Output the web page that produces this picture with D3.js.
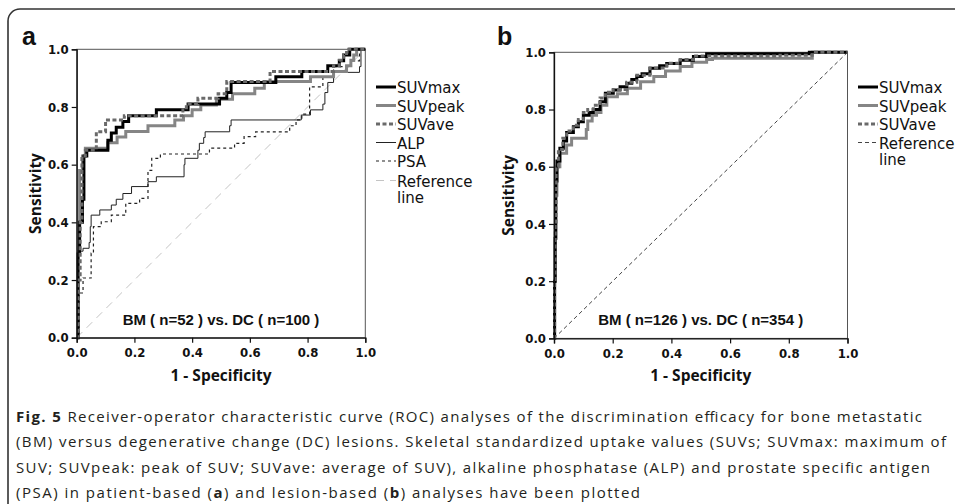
<!DOCTYPE html>
<html>
<head>
<meta charset="utf-8">
<script src="https://cdn.jsdelivr.net/npm/d3@7"></script>
<style>
  body { margin: 0; background: #fff; }
  svg { display: block; }
</style>
</head>
<body>
<div id="fig"></div>
<script>
// ---- data: [1 - specificity, sensitivity] at each step ----
const ticks = [0, 0.2, 0.4, 0.6, 0.8, 1.0];

// panel a : patient based, BM n=52 vs DC n=100
const aSUVmax = [[0,0],[0.005,0.29],[0.01,0.40],[0.02,0.48],[0.025,0.63],[0.035,0.65],[0.108,0.685],[0.12,0.71],[0.137,0.73],[0.16,0.75],[0.18,0.77],[0.276,0.79],[0.386,0.81],[0.495,0.83],[0.52,0.85],[0.535,0.885],[0.69,0.905],[0.78,0.923],[0.87,0.943],[0.91,0.96],[0.925,0.98],[0.946,1.0],[1,1]];
const aSUVpeak = [[0,0],[0.003,0.30],[0.01,0.58],[0.02,0.63],[0.03,0.657],[0.108,0.676],[0.14,0.696],[0.17,0.715],[0.247,0.735],[0.34,0.755],[0.37,0.77],[0.40,0.79],[0.43,0.807],[0.484,0.827],[0.54,0.846],[0.617,0.865],[0.65,0.888],[0.81,0.905],[0.89,0.923],[0.935,0.943],[0.95,0.962],[0.96,0.98],[0.97,1.0],[1,1]];
const aSUVave = [[0,0],[0.005,0.20],[0.012,0.40],[0.018,0.63],[0.03,0.65],[0.068,0.714],[0.10,0.755],[0.165,0.77],[0.368,0.79],[0.38,0.81],[0.42,0.83],[0.49,0.846],[0.52,0.888],[0.67,0.923],[0.89,0.943],[0.91,0.962],[0.925,0.98],[0.935,1.0],[1,1]];
const aALP = [[0,0],[0.003,0.30],[0.022,0.31],[0.043,0.33],[0.047,0.385],[0.05,0.425],[0.08,0.443],[0.12,0.46],[0.137,0.48],[0.16,0.50],[0.19,0.524],[0.247,0.541],[0.276,0.558],[0.372,0.60],[0.375,0.622],[0.42,0.65],[0.425,0.674],[0.44,0.694],[0.445,0.714],[0.53,0.735],[0.535,0.755],[0.778,0.772],[0.81,0.79],[0.853,0.81],[0.86,0.85],[0.87,0.885],[0.89,0.92],[0.98,0.94],[0.985,1.0],[1,1]];
const aPSA = [[0,0],[0.008,0.155],[0.022,0.207],[0.05,0.293],[0.058,0.385],[0.085,0.402],[0.12,0.425],[0.17,0.466],[0.218,0.483],[0.247,0.58],[0.26,0.622],[0.29,0.637],[0.46,0.657],[0.547,0.674],[0.58,0.697],[0.62,0.714],[0.738,0.735],[0.76,0.755],[0.78,0.775],[0.807,0.87],[0.853,0.905],[0.89,0.94],[0.95,0.96],[0.98,1.0],[1,1]];

// panel b : lesion based, BM n=126 vs DC n=354
const bSUVmax = [[0,0],[0.002,0.2],[0.004,0.35],[0.006,0.55],[0.01,0.62],[0.02,0.665],[0.032,0.69],[0.043,0.72],[0.066,0.74],[0.083,0.757],[0.10,0.78],[0.12,0.79],[0.134,0.80],[0.157,0.827],[0.175,0.857],[0.202,0.868],[0.225,0.88],[0.248,0.892],[0.265,0.905],[0.282,0.915],[0.30,0.925],[0.327,0.944],[0.36,0.953],[0.384,0.961],[0.43,0.972],[0.475,0.985],[0.52,0.995],[0.87,1.0],[1,1]];
const bSUVpeak = [[0,0],[0.002,0.2],[0.004,0.35],[0.006,0.5],[0.01,0.6],[0.02,0.647],[0.043,0.676],[0.06,0.70],[0.11,0.73],[0.115,0.76],[0.13,0.78],[0.145,0.79],[0.16,0.815],[0.18,0.845],[0.216,0.855],[0.25,0.874],[0.295,0.897],[0.34,0.915],[0.38,0.935],[0.43,0.95],[0.47,0.965],[0.52,0.975],[0.54,0.979],[0.88,1.0],[1,1]];
const bSUVave = [[0,0],[0.002,0.2],[0.004,0.4],[0.007,0.6],[0.015,0.66],[0.03,0.70],[0.043,0.725],[0.066,0.745],[0.083,0.765],[0.10,0.79],[0.115,0.80],[0.134,0.815],[0.157,0.84],[0.175,0.86],[0.202,0.87],[0.248,0.895],[0.282,0.92],[0.327,0.945],[0.384,0.962],[0.43,0.975],[0.475,0.987],[0.77,0.99],[0.88,1.0],[1,1]];

const refLine = [[0,0],[1,1]];

const captionLines = [
  [["Fig. 5", true], [" Receiver-operator characteristic curve (ROC) analyses of the discrimination efficacy for bone metastatic", false]],
  [["(BM) versus degenerative change (DC) lesions. Skeletal standardized uptake values (SUVs; SUVmax: maximum of", false]],
  [["SUV; SUVpeak: peak of SUV; SUVave: average of SUV), alkaline phosphatase (ALP) and prostate specific antigen", false]],
  [["(PSA) in patient-based (", false], ["a", true], [") and lesion-based (", false], ["b", true], [") analyses have been plotted", false]]
];

// ---- line styles ----
const styles = {
  SUVmax:  { stroke: "#000",    width: 3,   dash: null },
  SUVpeak: { stroke: "#858585", width: 3,   dash: null },
  SUVave:  { stroke: "#6a6a6a", width: 3,   dash: "4,2.5" },
  ALP:     { stroke: "#222",    width: 1,   dash: null },
  PSA:     { stroke: "#222",    width: 1.2, dash: "3,3" },
  refA:    { stroke: "#c4c4c4", width: 1,   dash: "8,6" },
  refB:    { stroke: "#444",    width: 1,   dash: "4,3" }
};

const W = 955, H = 504;
const svg = d3.select("#fig").append("svg")
  .attr("width", W).attr("height", H)
  .attr("viewBox", `0 0 ${W} ${H}`);

// rounded frame around the figure (runs off the right and bottom)
svg.append("rect")
  .attr("x", 8).attr("y", 9)
  .attr("width", 980).attr("height", 540)
  .attr("rx", 12)
  .attr("fill", "none")
  .attr("stroke", "#333")
  .attr("stroke-width", 1.6);

const tickFont = "'DejaVu Sans', Verdana, sans-serif";

function drawPanel(p) {
  const x = d3.scaleLinear().domain([0, 1]).range([p.x0, p.x1]);
  const y = d3.scaleLinear().domain([0, 1]).range([p.yb, p.yt]);

  // plot frame
  svg.append("rect")
    .attr("x", p.x0).attr("y", p.yt)
    .attr("width", p.x1 - p.x0).attr("height", p.yb - p.yt)
    .attr("fill", "none").attr("stroke", "#555").attr("stroke-width", 1);

  const line = d3.line()
    .x(d => x(d[0])).y(d => y(d[1]))
    .curve(d3.curveStepAfter);
  const straight = d3.line().x(d => x(d[0])).y(d => y(d[1]));

  // reference first, then curves back to front
  p.series.forEach(s => {
    const st = styles[s.style];
    svg.append("path")
      .datum(s.data)
      .attr("d", s.straight ? straight : line)
      .attr("fill", "none")
      .attr("stroke", st.stroke)
      .attr("stroke-width", st.width)
      .attr("stroke-dasharray", st.dash)
      .attr("stroke-linejoin", "miter");
  });

  // axes
  const xAxis = svg.append("g")
    .attr("transform", `translate(0,${p.yb})`)
    .call(d3.axisBottom(x).tickValues(ticks).tickFormat(d3.format(".1f")).tickSize(5).tickPadding(5));
  const yAxis = svg.append("g")
    .attr("transform", `translate(${p.x0},0)`)
    .call(d3.axisLeft(y).tickValues(ticks).tickFormat(d3.format(".1f")).tickSize(5).tickPadding(3));
  [xAxis, yAxis].forEach(ax => {
    ax.select(".domain").attr("stroke", "#111").attr("stroke-width", 1.3);
    ax.selectAll(".tick line").attr("stroke", "#111").attr("stroke-width", 1.2);
    ax.selectAll(".tick text")
      .attr("fill", "#111")
      .style("font-family", tickFont)
      .style("font-stretch", "condensed")
      .style("font-weight", "bold")
      .style("font-size", "13px");
  });

  // axis titles
  svg.append("text")
    .attr("x", (p.x0 + p.x1) / 2).attr("y", p.yb + 43)
    .attr("text-anchor", "middle")
    .style("font-family", "'Open Sans', sans-serif")
    .style("font-weight", "bold").style("font-size", "15.5px")
    .attr("fill", "#111")
    .text("1 - Specificity");
  svg.append("text")
    .attr("transform", `translate(${p.ylabX},${(p.yt + p.yb) / 2}) rotate(-90)`)
    .attr("text-anchor", "middle")
    .style("font-family", "'Open Sans', sans-serif")
    .style("font-weight", "bold").style("font-size", "15.5px")
    .attr("fill", "#111")
    .text("Sensitivity");

  // sample size note
  svg.append("text")
    .attr("x", (p.x0 + p.x1) / 2).attr("y", p.yb - 13)
    .attr("text-anchor", "middle")
    .style("font-family", "'Liberation Sans', Arial, sans-serif")
    .style("font-weight", "bold").style("font-size", "15px")
    .attr("fill", "#111")
    .text(p.note);

  // panel letter
  svg.append("text")
    .attr("x", p.letterX).attr("y", 45)
    .style("font-family", "'Liberation Sans', Arial, sans-serif")
    .style("font-weight", "bold").style("font-size", "25px")
    .attr("fill", "#111")
    .text(p.letter);

  // legend
  const lg = svg.append("g").attr("transform", `translate(${p.legX},0)`);
  p.legend.forEach(item => {
    const st = styles[item.style];
    lg.append("line")
      .attr("x1", 0).attr("x2", 20)
      .attr("y1", item.y - 6).attr("y2", item.y - 6)
      .attr("stroke", st.stroke)
      .attr("stroke-width", st.width)
      .attr("stroke-dasharray", st.dash);
    item.text.forEach((t, i) => {
      lg.append("text")
        .attr("x", 21).attr("y", item.y + i * 16.7)
        .style("font-family", "'DejaVu Sans', sans-serif")
        .style("font-size", "15px")
        .attr("fill", "#111")
        .text(t);
    });
  });
}

drawPanel({
  letter: "a", letterX: 22,
  x0: 76.7, x1: 365.3, yt: 49.3, yb: 337.7, ylabX: 41,
  note: "BM ( n=52 ) vs. DC ( n=100 )",
  legX: 376,
  series: [
    { data: refLine, style: "refA", straight: true },
    { data: aPSA, style: "PSA" },
    { data: aALP, style: "ALP" },
    { data: aSUVpeak, style: "SUVpeak" },
    { data: aSUVmax, style: "SUVmax" },
    { data: aSUVave, style: "SUVave" }
  ],
  legend: [
    { style: "SUVmax", y: 93, text: ["SUVmax"] },
    { style: "SUVpeak", y: 111.5, text: ["SUVpeak"] },
    { style: "SUVave", y: 130, text: ["SUVave"] },
    { style: "ALP", y: 148.5, text: ["ALP"] },
    { style: "PSA", y: 167, text: ["PSA"] },
    { style: "refA", y: 186.5, text: ["Reference", "line"] }
  ]
});

drawPanel({
  letter: "b", letterX: 497,
  x0: 554, x1: 847.5, yt: 52.3, yb: 338.4, ylabX: 514,
  note: "BM ( n=126 ) vs. DC ( n=354 )",
  legX: 858,
  series: [
    { data: refLine, style: "refB", straight: true },
    { data: bSUVpeak, style: "SUVpeak" },
    { data: bSUVmax, style: "SUVmax" },
    { data: bSUVave, style: "SUVave" }
  ],
  legend: [
    { style: "SUVmax", y: 93, text: ["SUVmax"] },
    { style: "SUVpeak", y: 111.5, text: ["SUVpeak"] },
    { style: "SUVave", y: 130, text: ["SUVave"] },
    { style: "refB", y: 148.5, text: ["Reference", "line"] }
  ]
});

// caption
const capWidths = [906, 930, 914, 624];
captionLines.forEach((parts, i) => {
  const t = svg.append("text")
    .attr("x", 16).attr("y", 422 + i * 25.3)
    .attr("textLength", capWidths[i])
    .attr("lengthAdjust", "spacing")
    .style("font-family", "'Open Sans', sans-serif")
    .style("font-size", "15px")
    .attr("fill", "#231f20");
  parts.forEach(([s, bold]) => {
    t.append("tspan").style("font-weight", bold ? "bold" : "normal").text(s);
  });
});
</script>
</body>
</html>
